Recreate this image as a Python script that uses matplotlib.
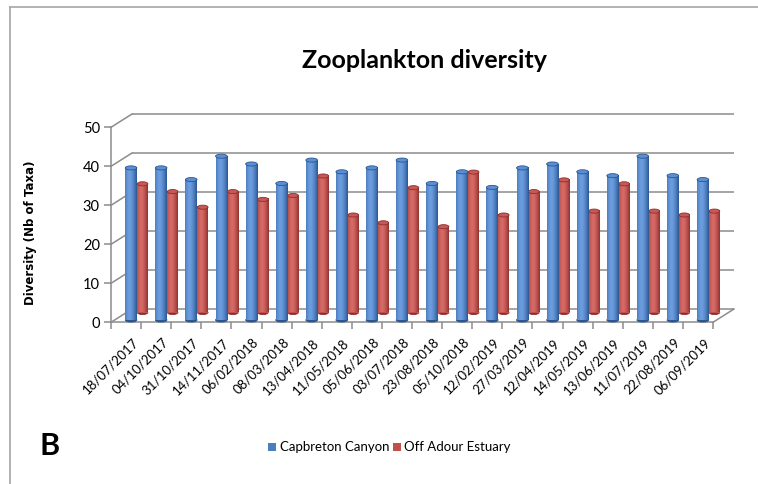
import numpy as np
import matplotlib
matplotlib.use("Agg")
import matplotlib.pyplot as plt
from matplotlib.patches import Ellipse, Rectangle
from matplotlib.lines import Line2D
from matplotlib.transforms import ScaledTranslation

# ---- data ---------------------------------------------------------------
dates = ["18/07/2017", "04/10/2017", "31/10/2017", "14/11/2017", "06/02/2018",
         "08/03/2018", "13/04/2018", "11/05/2018", "05/06/2018", "03/07/2018",
         "23/08/2018", "05/10/2018", "12/02/2019", "27/03/2019", "12/04/2019",
         "14/05/2019", "13/06/2019", "11/07/2019", "22/08/2019", "06/09/2019"]
capbreton = [39, 39, 36, 42, 40, 35, 41, 38, 39, 41,
             35, 38, 34, 39, 40, 38, 37, 42, 37, 36]
adour = [33, 31, 27, 31, 29, 30, 35, 25, 23, 32,
         22, 36, 25, 31, 34, 26, 33, 26, 25, 26]
series_names = ["Capbreton Canyon", "Off Adour Estuary"]
y_ticks = [0, 10, 20, 30, 40, 50]

# ---- figure / axes geometry ---------------------------------------------
W, H = 758, 484
fig = plt.figure(figsize=(W / 100, H / 100), dpi=100)
fig.patch.set_facecolor("white")

FONT = ["Lato", "DejaVu Sans"]
plt.rcParams["font.family"] = FONT

n = len(dates)
sx = 30.1          # pixels per category
sy = 3.9           # pixels per diversity unit
x0_px, y0_px = 111, 322.3
xmax = 20.9
ymax = 54.5
ax = fig.add_axes([x0_px / W, (H - y0_px) / H, xmax * sx / W, ymax * sy / H])
ax.set_xlim(0, xmax)
ax.set_ylim(0, ymax)
ax.set_facecolor("none")

# oblique depth of the 3-D box (in data units)
DX = 21 / sx
DY = 13.3 / sy
GRID = "#8c8c8c"

# back wall gridlines + side wall diagonals
for v in y_ticks:
    ax.plot([DX, n + DX], [v + DY, v + DY], color=GRID, lw=1.1, zorder=1,
            clip_on=False, solid_capstyle="butt")
    ax.plot([0, DX], [v, v + DY], color=GRID, lw=1.1, zorder=1, clip_on=False)
# floor right edge
ax.plot([n, n + DX], [0, DY], color=GRID, lw=1.1, zorder=1, clip_on=False)


def cylinder(xc, base, height, width, dark, mid, light, cap, zorder):
    """Shaded cylinder: body bar, gradient fill and elliptic caps."""
    eh = 1.05  # cap height in data units
    # bottom ellipse (lower half shows below the body)
    ax.add_patch(Ellipse((xc, base), width, eh, facecolor=dark, edgecolor=dark,
                         lw=0.6, zorder=zorder, clip_on=False))
    body = ax.bar(xc, height, width=width, bottom=base, color=mid,
                  edgecolor="none", zorder=zorder + 0.1, clip_on=False)[0]
    t = np.linspace(0, 1, 64)
    prof = np.clip(1 - np.abs((t - 0.38) / 0.62) ** 1.6, 0, 1)
    c_dark = np.array(matplotlib.colors.to_rgb(dark))
    c_light = np.array(matplotlib.colors.to_rgb(light))
    grad = c_dark[None, :] + (c_light - c_dark)[None, :] * prof[:, None]
    im = ax.imshow(grad[None, :, :], extent=[xc - width / 2, xc + width / 2,
                                              base, base + height],
                   aspect="auto", interpolation="bilinear",
                   zorder=zorder + 0.2, clip_on=False)
    im.set_clip_path(body)
    ax.add_patch(Ellipse((xc, base + height), width, eh, facecolor=cap,
                         edgecolor=dark, lw=0.6, zorder=zorder + 0.3,
                         clip_on=False))


blue = dict(dark="#2b5690", mid="#4a7ebf", light="#6b9de0", cap="#5b8fd4")
red = dict(dark="#8f2f2c", mid="#c0504d", light="#d66a66", cap="#c85855")

# far row first (Off Adour Estuary), then near row (Capbreton Canyon)
for i, v in enumerate(adour):
    cylinder(i + 0.5 + 16.5 / sx, 9.8 / sy, v, 10.6 / sx, zorder=3, **red)
for i, v in enumerate(capbreton):
    cylinder(i + 0.5 + 5 / sx, 2.3 / sy, v, 11.6 / sx, zorder=5, **blue)

ax.set_xlim(0, xmax)
ax.set_ylim(0, ymax)

# ---- axes styling -------------------------------------------------------
for s in ["top", "right"]:
    ax.spines[s].set_visible(False)
ax.spines["left"].set_bounds(0, 50)
ax.spines["bottom"].set_bounds(0, n)
for s in ["left", "bottom"]:
    ax.spines[s].set_color(GRID)
    ax.spines[s].set_linewidth(1.1)

ax.set_yticks(y_ticks)
ax.set_yticklabels([str(v) for v in y_ticks], fontsize=10.5)
ax.tick_params(axis="y", length=5, width=1.1, color=GRID, pad=3)

ax.set_xticks(np.arange(n + 1))
ax.set_xticklabels([])
ax.set_xticks(np.arange(n) + 0.5, minor=True)
ax.set_xticklabels(dates, minor=True, rotation=45, ha="right", va="top",
                   rotation_mode="anchor", fontsize=9.5)
ax.tick_params(axis="x", which="major", length=5, width=1.1, color=GRID)
ax.tick_params(axis="x", which="minor", length=0, pad=10)
for lbl in ax.get_xticklabels(minor=True):
    lbl.set_transform(lbl.get_transform() +
                      ScaledTranslation(6 / 100, 0, fig.dpi_scale_trans))


def fig_text(x, y, s, **kw):
    fig.text(x / W, 1 - y / H, s, **kw)


fig_text(425, 60, "Zooplankton diversity", fontsize=18, fontweight="bold",
         ha="center", va="center")
fig_text(31, 233, "Diversity (Nb of Taxa)", fontsize=8.5, fontweight="bold",
         rotation=90, ha="center", va="center", family=["DejaVu Sans"])
fig_text(50, 446, "B", fontsize=22, fontweight="bold", ha="center",
         va="center")

# legend
fig.patches.append(Rectangle((268 / W, 1 - 451 / H), 8 / W, 8 / H,
                             transform=fig.transFigure, facecolor="#4a7ebf",
                             edgecolor="none"))
fig_text(280, 447, series_names[0], fontsize=9.5, ha="left", va="center")
fig.patches.append(Rectangle((393 / W, 1 - 451 / H), 8 / W, 8 / H,
                             transform=fig.transFigure, facecolor="#c0504d",
                             edgecolor="none"))
fig_text(404, 447, series_names[1], fontsize=9.5, ha="left", va="center")

# outer frame
fig.add_artist(Line2D([10 / W, 10 / W], [0, 1 - 7 / H], color="#a6a6a6",
                      lw=1.2, transform=fig.transFigure))
fig.add_artist(Line2D([10 / W, 1], [1 - 7 / H, 1 - 7 / H], color="#a6a6a6",
                      lw=1.2, transform=fig.transFigure))

fig.savefig("out.png", dpi=100)
